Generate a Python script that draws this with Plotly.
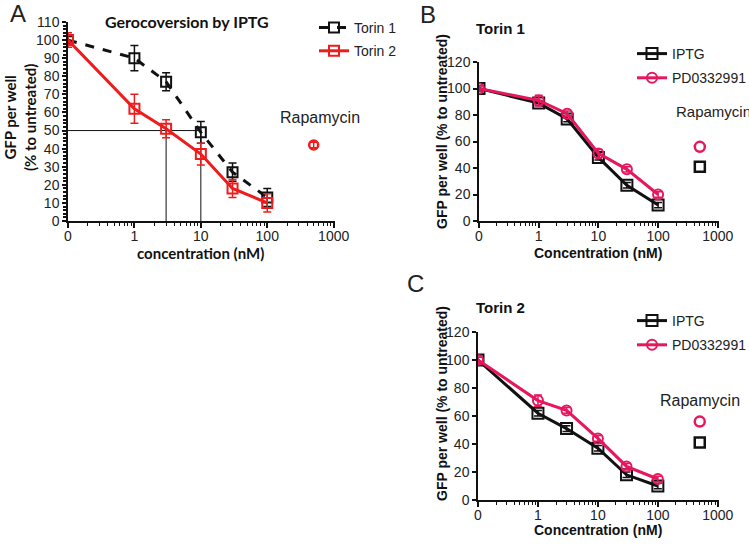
import plotly.graph_objects as go

# concentrations (nM); 0 is drawn at 0.1 on the log axis
conc = [0, 1, 3, 10, 30, 100]
rapa_conc = [500]

# panel A: gerocoversion by IPTG
a_torin1 = [100, 90, 77, 49, 27, 13]
a_torin1_err = [2, 7, 5, 6, 5, 5]
a_torin2 = [100, 62, 51, 37, 18, 10]
a_torin2_err = [4, 8, 5, 6, 5, 5]
a_rapa = [42]
a_rapa_err = [1.5]

# IC50 guide lines in panel A
ic50_h_x = [0, 10]
ic50_h_y = [50, 50]
ic50_v1_x = [3, 3]
ic50_v2_x = [10, 10]
ic50_v_y = [0, 50]

# panel B: Torin 1
b_iptg = [100, 89, 77, 48, 27, 12]
b_iptg_err = [2, 2, 2, 2, 2, 2]
b_pd = [100, 91, 81, 51, 39, 20]
b_pd_err = [2, 4, 2, 3, 2, 2]
b_rapa_iptg = [41]
b_rapa_pd = [56]

# panel C: Torin 2
c_iptg = [100, 62, 51, 37, 18, 10]
c_iptg_err = [2, 2, 2, 2, 2, 2]
c_pd = [100, 71, 64, 44, 24, 15]
c_pd_err = [2, 4, 2, 2, 2, 2]
c_rapa_iptg = [41]
c_rapa_pd = [56]

tick_vals = [0.1, 1, 10, 100, 1000]
tick_text = ['0', '1', '10', '100', '1000']

RED = '#ee1c1c'
PINK = '#e6175f'
BLACK = '#111111'
W, H = 749, 547


def logx(vals):
    return [v if v > 0 else 0.1 for v in vals]


def err(vals, color, width=1.5):
    return dict(type='data', array=vals, visible=True, color=color,
                thickness=width, width=4)


fig = go.Figure()

# ---- panel A ----
fig.add_trace(go.Scatter(x=logx(ic50_h_x), y=ic50_h_y, mode='lines',
                         line=dict(color=BLACK, width=1), showlegend=False,
                         xaxis='x', yaxis='y'))
for vx in (ic50_v1_x, ic50_v2_x):
    fig.add_trace(go.Scatter(x=logx(vx), y=ic50_v_y, mode='lines',
                             line=dict(color=BLACK, width=1), showlegend=False,
                             xaxis='x', yaxis='y'))
fig.add_trace(go.Scatter(x=logx(conc), y=a_torin1, name='Torin 1',
                         mode='lines+markers', error_y=err(a_torin1_err, BLACK),
                         line=dict(color=BLACK, width=3, dash='dash'),
                         marker=dict(symbol='square-open', size=10, color=BLACK,
                                     line=dict(width=2)),
                         legend='legend', legendgroup='a1', xaxis='x', yaxis='y'))
fig.add_trace(go.Scatter(x=logx(conc), y=a_torin2, name='Torin 2',
                         mode='lines+markers', error_y=err(a_torin2_err, RED),
                         line=dict(color=RED, width=3),
                         marker=dict(symbol='square-open', size=10, color=RED,
                                     line=dict(width=2)),
                         legend='legend', legendgroup='a2', xaxis='x', yaxis='y'))
fig.add_trace(go.Scatter(x=rapa_conc, y=a_rapa, mode='markers',
                         error_y=err(a_rapa_err, RED),
                         marker=dict(symbol='circle-open', size=9, color=RED,
                                     line=dict(width=2.5)),
                         showlegend=False, xaxis='x', yaxis='y'))

# ---- panels B and C ----
for ax, iptg, iptg_err, pd_, pd_err, r_iptg, r_pd, leg in [
        ('2', b_iptg, b_iptg_err, b_pd, b_pd_err, b_rapa_iptg, b_rapa_pd, 'legend2'),
        ('3', c_iptg, c_iptg_err, c_pd, c_pd_err, c_rapa_iptg, c_rapa_pd, 'legend3')]:
    fig.add_trace(go.Scatter(x=logx(conc), y=iptg, name='IPTG',
                             mode='lines+markers', error_y=err(iptg_err, BLACK),
                             line=dict(color=BLACK, width=3),
                             marker=dict(symbol='square-open', size=11, color=BLACK,
                                         line=dict(width=2)),
                             legend=leg, legendgroup=leg + 'i',
                             xaxis='x' + ax, yaxis='y' + ax))
    fig.add_trace(go.Scatter(x=logx(conc), y=pd_, name='PD0332991',
                             mode='lines+markers', error_y=err(pd_err, PINK),
                             line=dict(color=PINK, width=3),
                             marker=dict(symbol='circle-open', size=10, color=PINK,
                                         line=dict(width=2)),
                             legend=leg, legendgroup=leg + 'p',
                             xaxis='x' + ax, yaxis='y' + ax))
    fig.add_trace(go.Scatter(x=rapa_conc, y=r_pd, mode='markers',
                             marker=dict(symbol='circle-open', size=10, color=PINK,
                                         line=dict(width=2.5)),
                             showlegend=False, xaxis='x' + ax, yaxis='y' + ax))
    fig.add_trace(go.Scatter(x=rapa_conc, y=r_iptg, mode='markers',
                             marker=dict(symbol='square-open', size=10, color=BLACK,
                                         line=dict(width=2.5)),
                             showlegend=False, xaxis='x' + ax, yaxis='y' + ax))

tick_font = dict(family='Liberation Sans, Arial', size=14, color='#222')
bold_a = dict(family='Lato, Open Sans', size=15, color='#111', weight='bold')
bold_bc = dict(family='Liberation Sans, Arial', size=14, color='#111', weight='bold')
leg_font = dict(family='Liberation Sans, Arial', size=14, color='#222')


def xaxis(dom, anchor):
    return dict(domain=dom, anchor=anchor, type='log', range=[-1, 3.02],
                tickvals=tick_vals, ticktext=tick_text, tickfont=tick_font,
                ticks='outside', ticklen=5, tickwidth=1.5, tickcolor=BLACK,
                ticklabelstandoff=-4,
                minor=dict(ticks='outside', ticklen=3, tickwidth=1, tickcolor=BLACK,
                           dtick='D1'),
                showline=True, linecolor=BLACK, linewidth=1.5, showgrid=False,
                zeroline=False, automargin=False)


def yaxis(dom, anchor, rng, dt, minor=None):
    d = dict(domain=dom, anchor=anchor, range=rng, dtick=dt, tickfont=tick_font,
             ticks='outside', ticklen=4, tickwidth=1.5, tickcolor=BLACK,
             showline=True, linecolor=BLACK, linewidth=1.5, showgrid=False,
             zeroline=False, automargin=False)
    if minor:
        d['minor'] = minor
    return d


fig.update_layout(
    width=W, height=H, margin=dict(l=0, r=0, t=0, b=0, autoexpand=False),
    paper_bgcolor='white', plot_bgcolor='white',
    xaxis=xaxis([68 / W, 335 / W], 'y'),
    yaxis=yaxis([1 - 221 / H, 1 - 22 / H], 'x', [0, 110], 10,
                minor=dict(ticks='outside', ticklen=3, tickcolor=BLACK, dtick=2)),
    xaxis2=xaxis([479 / W, 719 / W], 'y2'),
    yaxis2=yaxis([1 - 221 / H, 1 - 62 / H], 'x2', [0, 120], 20),
    xaxis3=xaxis([478 / W, 719 / W], 'y3'),
    yaxis3=yaxis([1 - 500 / H, 1 - 332 / H], 'x3', [0, 120], 20),
    legend=dict(x=314 / W, y=1 - 12 / H, xanchor='left', yanchor='top',
                font=leg_font, tracegroupgap=2, bgcolor='rgba(0,0,0,0)'),
    legend2=dict(x=632 / W, y=1 - 38 / H, xanchor='left', yanchor='top',
                 font=leg_font, tracegroupgap=3, bgcolor='rgba(0,0,0,0)'),
    legend3=dict(x=632 / W, y=1 - 305 / H, xanchor='left', yanchor='top',
                 font=leg_font, tracegroupgap=3, bgcolor='rgba(0,0,0,0)'),
    showlegend=True,
)

# text placed in pixels from the top-left corner
texts = [
    # text, x, y, font, xanchor, angle
    ('A', 18, 13, dict(family='Liberation Sans, Arial', size=24, color='#222'), 'center', 0),
    ('B', 428, 14, dict(family='Liberation Sans, Arial', size=24, color='#222'), 'center', 0),
    ('C', 415, 284, dict(family='Liberation Sans, Arial', size=24, color='#222'), 'center', 0),
    ('Rapamycin', 320, 118, dict(family='Liberation Sans, Arial', size=16, color='#222'), 'center', 0),
    ('Rapamycin', 674, 111, dict(family='Liberation Sans, Arial', size=15, color='#222'), 'left', 0),
    ('Rapamycin', 700, 400, dict(family='Liberation Sans, Arial', size=16, color='#222'), 'center', 0),
    ('Gerocoversion by IPTG', 187, 22, bold_a | dict(size=16), 'center', 0),
    ('Torin 1', 500, 28, bold_bc | dict(size=15), 'center', 0),
    ('Torin 2', 500, 307, bold_bc | dict(size=15), 'center', 0),
    ('concentration (nM)', 200, 253, bold_a, 'center', 0),
    ('GFP per well<br>(% to untreated)', 20, 118, bold_a, 'center', -90),
    ('Concentration (nM)', 598, 253, bold_bc, 'center', 0),
    ('GFP per well (% to untreated)', 442, 132, bold_bc, 'center', -90),
    ('Concentration (nM)', 598, 530, bold_bc, 'center', 0),
    ('GFP per well (% to untreated)', 442, 404, bold_bc, 'center', -90),
]
for t, x, y, f, xa, ang in texts:
    fig.add_annotation(text=t, x=x / W, y=1 - y / H, xref='paper', yref='paper',
                       showarrow=False, xanchor=xa, yanchor='middle',
                       textangle=ang, font=f)

# drop the page's default body margin so the figure sits at the window's corner
fig.write_html("out.html", config={'displayModeBar': False},
               post_script="document.body.style.margin='0';")
